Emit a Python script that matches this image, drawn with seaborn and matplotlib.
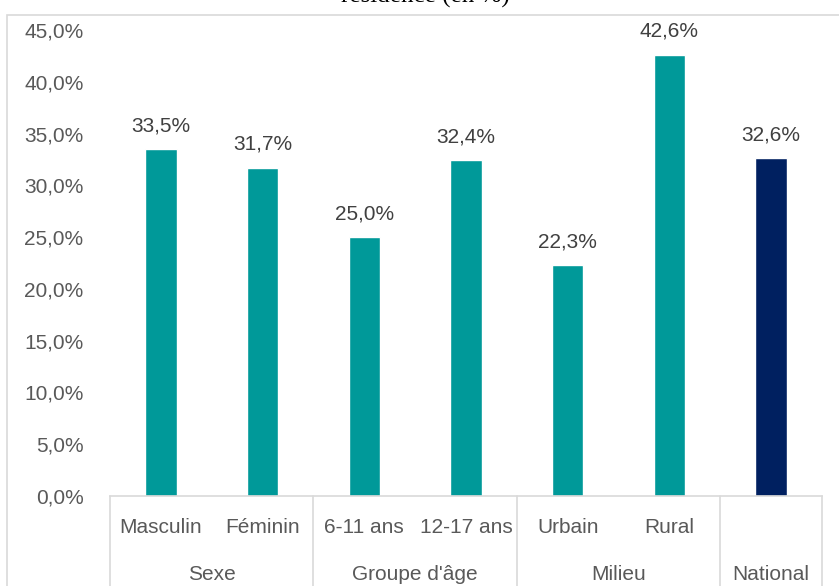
import pandas as pd
import numpy as np
import seaborn as sns
import matplotlib.pyplot as plt
from matplotlib.patches import Rectangle

categories = ["Masculin", "Féminin", "6-11 ans", "12-17 ans", "Urbain", "Rural", "National"]
values = [33.5, 31.7, 25.0, 32.4, 22.3, 42.6, 32.6]
groups = ["Sexe", "Sexe", "Groupe d'âge", "Groupe d'âge", "Milieu", "Milieu", "National"]
group_names = ["Sexe", "Groupe d'âge", "Milieu", "National"]
yticks = [0, 5, 10, 15, 20, 25, 30, 35, 40, 45]

df = pd.DataFrame({"cat": categories, "val": values, "grp": groups})
colors = ["#009999"] * 6 + ["#002060"]

sns.set_style("white")
plt.rcParams['font.family'] = ['Liberation Sans', 'DejaVu Sans']

fig = plt.figure(figsize=(8.39, 5.86), dpi=100)
ax = fig.add_axes([110 / 839, 90 / 586, 712 / 839, 466 / 586])

sns.barplot(data=df, x="cat", y="val", hue="cat", palette=colors, legend=False,
            width=0.31, saturation=1, ax=ax)

ax.set_ylim(0, 45)
ax.set_xlim(-0.5, 6.5)
ax.set_yticks(yticks)
ax.set_yticklabels([f"{t:.1f}%".replace(".", ",") for t in yticks], color="#595959", fontsize=15)
ax.tick_params(axis="y", length=0, pad=19)
ax.set_xticks([])
ax.set_xlabel("")
ax.set_ylabel("")
for s in ["left", "right", "top"]:
    ax.spines[s].set_visible(False)
ax.spines["bottom"].set_color("#d9d9d9")
ax.spines["bottom"].set_linewidth(1.2)

# valeurs au-dessus des barres
for i, v in enumerate(values):
    ax.annotate(f"{v:.1f}%".replace(".", ","), (i, v), xytext=(0, 10), textcoords="offset points",
                ha="center", va="bottom", fontsize=15, color="#404040")

# axe des catégories à deux niveaux
trans = ax.get_xaxis_transform()
for i, c in enumerate(categories[:6]):
    ax.text(i, -0.068, c, transform=trans, ha="center", va="center", fontsize=15, color="#595959")
bounds = [-0.5, 1.5, 3.5, 5.5, 6.5]
for b in bounds:
    ax.plot([b, b], [0, -0.2], transform=trans, color="#d9d9d9", lw=1.2, clip_on=False)
for j, g in enumerate(group_names):
    mid = (bounds[j] + bounds[j + 1]) / 2
    ax.text(mid, -0.168, g, transform=trans, ha="center", va="center", fontsize=15, color="#595959")

# cadre du graphique
fig.patches.append(Rectangle((7 / 839, -0.01), 1.0, (586 - 15) / 586 + 0.01, transform=fig.transFigure,
                             fill=False, edgecolor="#d9d9d9", lw=1.2))

fig.text(425 / 839, 578 / 586, "résidence (en %)", ha="center", va="bottom", fontsize=18,
         family=["Liberation Serif"], color="black")

fig.savefig("out.png", dpi=100)
